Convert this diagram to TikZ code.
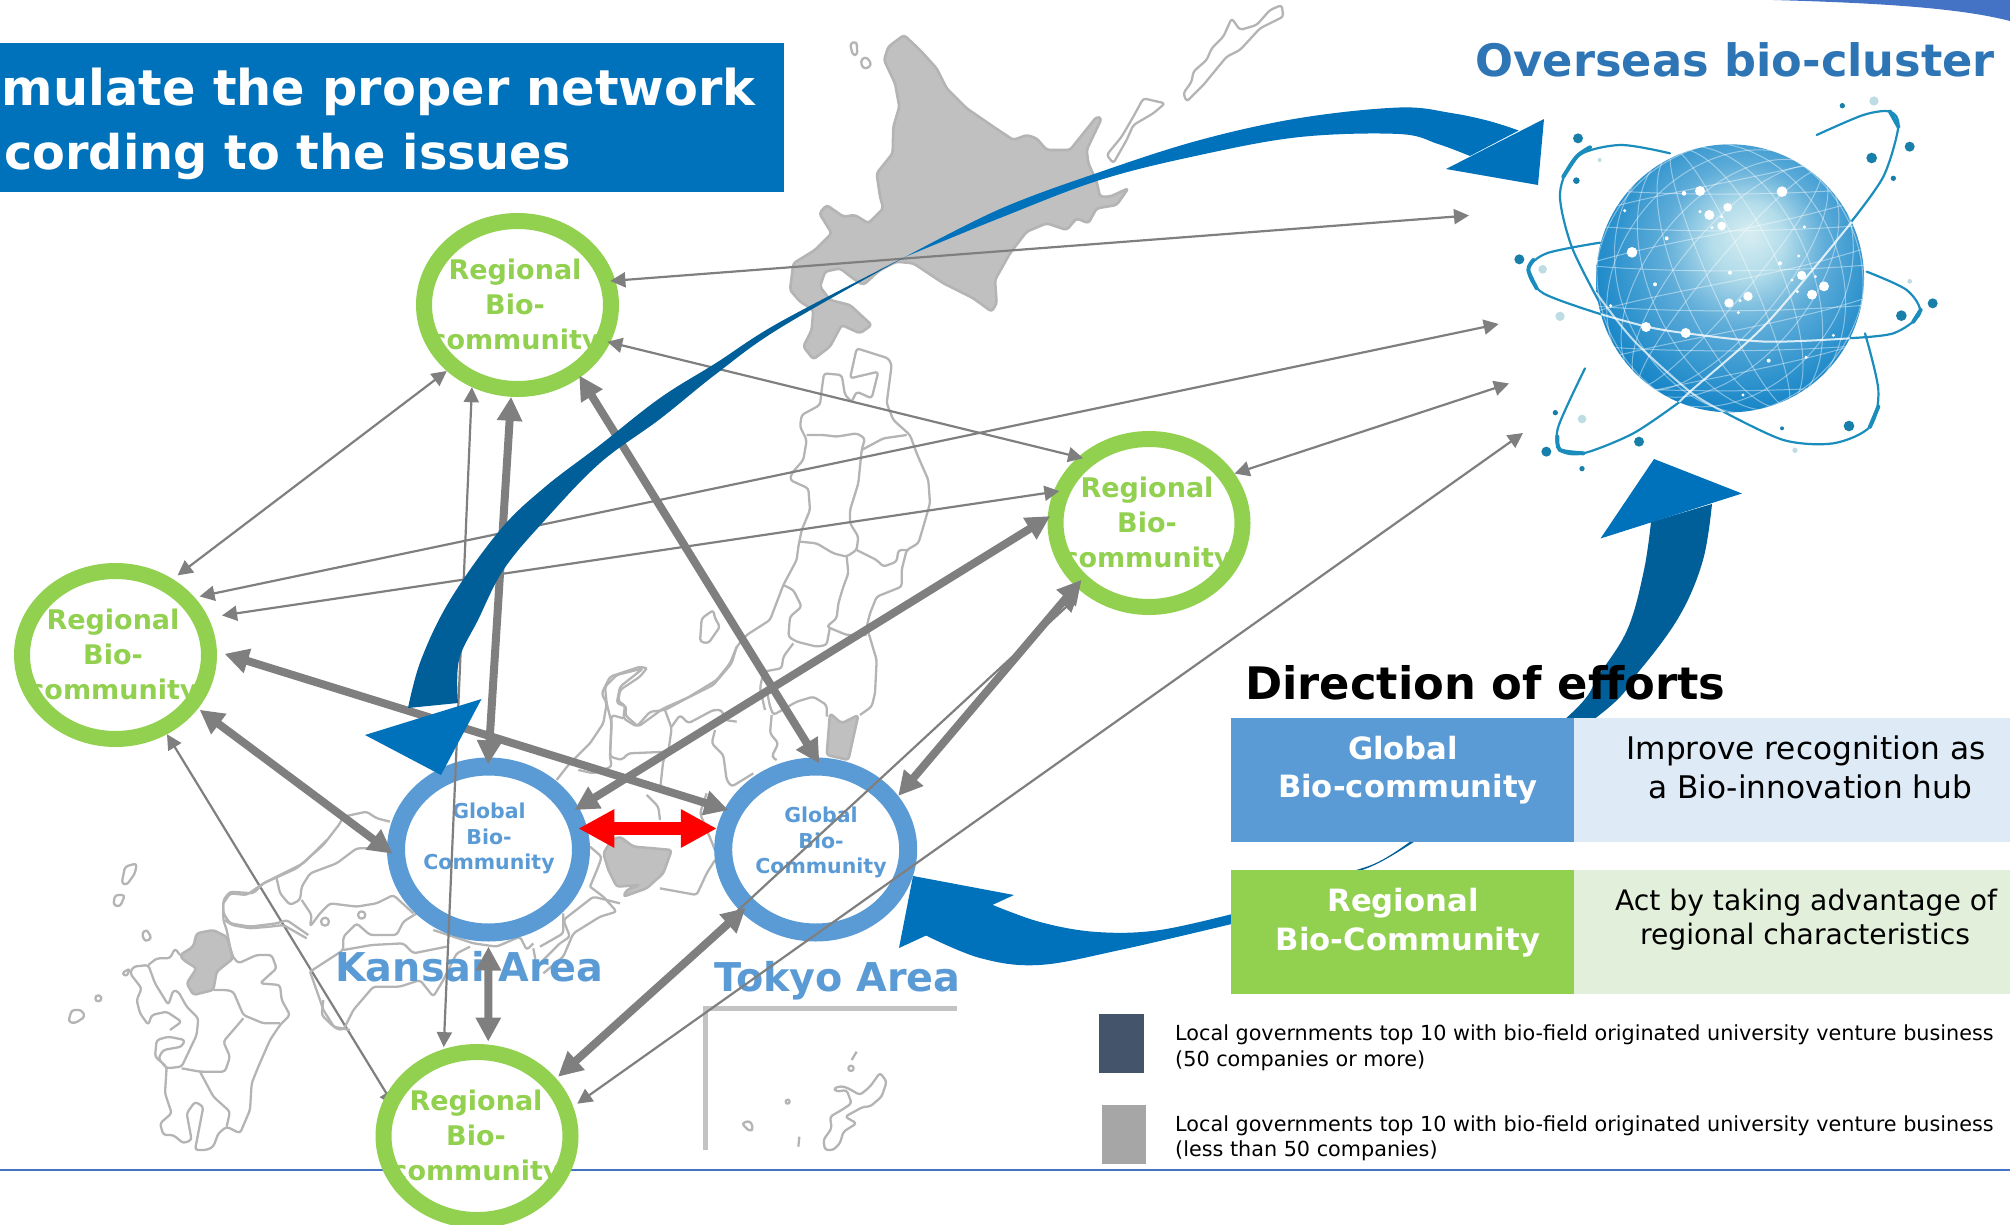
\documentclass[tikz,border=0pt]{standalone}
\usepackage{fontspec}
\setmainfont{DejaVu Sans}
\usetikzlibrary{arrows.meta,shapes.geometric,backgrounds}
\definecolor{ringgreen}{HTML}{92D050}
\definecolor{ringblue}{HTML}{5B9BD5}
\definecolor{conngray}{HTML}{7F7F7F}
\definecolor{bluelight}{HTML}{0071BB}
\definecolor{bluedark}{HTML}{005E98}
\definecolor{mapgray}{HTML}{B4B4B4}
\definecolor{mapfill}{HTML}{C0C0C0}
\definecolor{orbit}{HTML}{1A8DBD}
\definecolor{pale}{HTML}{BEDCE4}
\definecolor{ruleblue}{HTML}{4472C4}
\definecolor{headblue}{HTML}{2E75B6}
\definecolor{lightblue}{HTML}{DEEAF6}
\definecolor{lightgreen}{HTML}{E2EFDA}
\definecolor{legdark}{HTML}{44546A}
\definecolor{leggray}{HTML}{A6A6A6}
\definecolor{gsa}{RGB}{216,238,242}
\definecolor{gsb}{RGB}{178,220,234}
\definecolor{gsc}{RGB}{95,173,217}
\definecolor{gsd}{RGB}{45,146,205}
\definecolor{gse}{RGB}{8,124,195}
\pgfdeclareradialshading{globeshade}{\pgfpoint{3.75bp}{8.5bp}}{%
 color(0bp)=(gsa);
 color(7bp)=(gsb);
 color(15bp)=(gsc);
 color(24bp)=(gsd);
 color(32bp)=(gse);
 color(50bp)=(gse)}
\tikzset{
 ring/.style={ellipse,inner sep=0pt,fill=white},
 greenring/.style={ring,minimum width=187pt,minimum height=168pt,line width=16pt,draw=ringgreen},
 bluering/.style={ring,minimum width=185pt,minimum height=166pt,line width=18pt,draw=ringblue},
 regtext/.style={text=ringgreen,align=center,inner sep=0pt,font=\fontsize{27}{35}\selectfont\bfseries},
 glotext/.style={text=ringblue,align=center,inner sep=0pt,font=\fontsize{20.5}{25.5}\selectfont\bfseries},
 areatext/.style={text=ringblue,inner sep=0pt,anchor=base west,font=\fontsize{39.7}{39.7}\selectfont\bfseries},
 thinarrow/.style={conngray,line width=2.2pt,{Triangle[length=15pt,width=15pt]}-{Triangle[length=15pt,width=15pt]}},
 thickarrow/.style={conngray,line width=8pt,{Triangle[length=24pt,width=24pt]}-{Triangle[length=24pt,width=24pt]}},
 redarrow/.style={red,line width=13pt,{Triangle[length=36pt,width=36pt]}-{Triangle[length=36pt,width=36pt]}},
 mapline/.style={draw=mapgray,line width=2.3pt,line join=round,rounded corners=3pt},
 mapgrayed/.style={fill=mapfill,draw=mapgray,line width=2.6pt,line join=round,rounded corners=3pt},
 legtext/.style={inner sep=0pt,anchor=base west,font=\fontsize{20.75}{26}\selectfont},
 orb/.style={orbit,line width=2.2pt,line cap=round},
 orbthick/.style={orbit,line width=4pt,line cap=round},
 grid/.style={white,opacity=.42,line width=1pt},
}
\begin{document}
\begin{tikzpicture}[x=1pt,y=-1pt]
\useasboundingbox (0,0) rectangle (2010,1225);
\clip (0,0) rectangle (2010,1225);
% corner swoosh
\fill[ruleblue] (1773,0) .. controls (1880,3) and (1960,8) .. (2010,21) -- (2010,0) -- cycle;
% map
\begin{scope}
\clip (0,0) rectangle (2010,1151);
% Hokkaido
\begin{scope}[shift={(780,0)},x=.33333pt,y=-.33333pt]
\path[mapgrayed] (372,105)--(325,140)--(312,180)--(345,250)--(358,320)--(340,380)--(338,460)--(290,520)--(300,590)--(310,625)--(265,670)--(225,645)--(190,650)--(140,615)--(118,640)--(155,700)--(105,750)--(40,790)--(30,870)--(60,905)--(100,930)--(95,990)--(70,1040)--(100,1078)--(150,1040)--(185,975)--(240,1000)--(275,975)--(210,915)--(150,900)--(120,860)--(135,815)--(180,805)--(225,840)--(250,855)--(300,810)--(350,785)--(400,790)--(490,850)--(580,895)--(635,935)--(650,910)--(645,840)--(690,760)--(740,695)--(800,670)--(860,690)--(890,655)--(925,670)--(950,625)--(1010,615)--(1045,565)--(990,590)--(960,590)--(950,545)--(925,490)--(920,450)--(965,355)--(950,350)--(870,450)--(800,450)--(770,415)--(740,405)--(700,420)--(640,380)--(560,325)--(500,265)--(470,205)--(420,150)--cycle;
\path[mapline] (210,130)--(230,125)--(232,165)--(218,165)--cycle;
\path[mapline] (245,175)--(262,172)--(275,195)--(255,208)--(243,195)--cycle;
\path[mapline] (980,465)--(1000,490)--(1040,420)--(1060,375)--(1120,340)--(1155,310)--(1090,295)--(1060,350)--(1025,410)--cycle;
\path[mapline] (1210,280)--(1220,305)--(1270,255)--(1340,170)--(1380,150)--(1440,85)--(1510,50)--(1505,15)--(1470,30)--(1430,75)--(1380,90)--(1355,55)--(1330,110)--(1295,145)--(1280,180)--(1240,215)--(1235,245)--cycle;
\end{scope}
% Tohoku and Kanto
\begin{scope}[shift={(600,340)},x=.33333pt,y=-.33333pt]
\path[mapgrayed] (690,1120)--(725,1150)--(775,1125)--(745,1260)--(680,1245)--cycle;
\path[mapline] (755,185)--(735,165)--(725,105)--(672,100)--(665,150)--(660,195)--(605,225)--(600,260)--(620,300)--(610,360)--(575,400)--(570,420)--(625,445)--(630,510)--(605,570)--(595,620)--(590,660)--(550,735)--(510,840)--(440,885)--(410,920)--(395,970)--(340,1035)--(270,1070)--(190,1105)--(115,1160)--(75,1125)--(80,1100)--(50,1090)--(60,1040)--(130,985)--(50,1005)--(15,1040)--(20,1090)--(35,1150)--(30,1250);
\path[mapline] (755,185)--(770,155)--(815,175)--(835,95)--(750,115)--(770,25)--(865,55)--(875,75)--(860,190)--(880,240)--(930,285)--(950,340)--(985,420)--(990,490)--(970,560)--(955,610)--(920,630)--(905,690)--(905,740)--(830,770)--(810,820)--(800,860)--(830,960)--(825,1060)--(815,1100)--(780,1125);
\path[mapline] (620,285)--(670,285)--(710,290)--(770,280)--(795,295)--(785,330)--(775,430)--(750,510)--(750,550)--(775,590)--(770,630)--(740,650)--(700,640)--(650,610)--(600,605);
\path[mapline] (785,330)--(850,295)--(920,285);
\path[mapline] (770,630)--(830,660)--(850,680)--(890,665)--(895,630)--(925,630);
\path[mapline] (740,650)--(745,700)--(730,740)--(715,790)--(710,835)--(680,860)--(740,885)--(800,885);
\path[mapline] (550,735)--(580,750)--(605,800)--(570,830)--(565,890)--(590,905)--(650,920)--(680,915)--(690,860);
\path[mapline] (580,910)--(550,950)--(545,985)--(490,995)--(480,1045)--(495,1110);
\path[mapline] (500,1050)--(510,1100)--(520,1125)--(590,1085)--(640,1070)--(680,1095)--(680,1130);
\path[mapline] (515,1125)--(510,1180)--(535,1210)--(515,1250)--(530,1260);
\path[mapline] (340,810)--(305,835)--(300,905)--(325,910)--(360,860)--(345,835)--cycle;
\end{scope}
% Chubu
\begin{scope}[shift={(540,640)},x=.33333pt,y=-.33333pt]
\path[mapgrayed] (215,600)--(240,590)--(280,620)--(340,625)--(395,630)--(370,700)--(320,745)--(250,770)--(260,750)--(300,735)--(230,740)--(205,690)--(190,640)--cycle;
\path[mapline] (320,85)--(300,80)--(210,110)--(185,160)--(200,190)--(190,250)--(150,310)--(85,375)--(50,420);
\path[mapline] (320,85)--(300,110)--(240,150)--(235,185)--(255,195)--(250,235)--(290,260)--(330,215)--(375,210)--(440,175)--(530,120)--(570,70)--(590,20);
\path[mapline] (250,235)--(215,225)--(210,350)--(245,360)--(265,340)--(385,335)--(370,360)--(360,450);
\path[mapline] (375,210)--(395,265)--(385,335);
\path[mapline] (395,260)--(420,225)--(445,250)--(520,210)--(545,210)--(555,240)--(590,245);
\path[mapline] (115,390)--(160,400)--(215,380)--(210,350);
\path[mapline] (320,465)--(355,500)--(360,540);
\path[mapline] (500,460)--(480,520)--(525,630);
\path[mapline] (525,270)--(515,310)--(550,345)--(560,420)--(575,440)--(640,400);
\path[mapline] (360,745)--(470,765)--(500,700)--(525,660);
\path[mapline] (150,740)--(175,680)--(185,650)--(150,620);
\path[mapline] (150,740)--(190,770)--(230,815)--(180,830)--(100,880)--(70,950)--(10,1000);
\path[mapline] (70,820)--(70,880)--(0,920);
\end{scope}
% Chugoku and Shikoku
\begin{scope}[shift={(220,780)},x=.33333pt,y=-.33333pt]
\path[mapline] (10,370)--(30,340)--(80,345)--(130,310)--(175,290)--(230,265)--(310,195)--(360,130)--(370,110)--(440,95)--(470,115)--(510,125);
\path[mapline] (10,370)--(10,400)--(30,430)--(90,440)--(170,430)--(200,420)--(265,465);
\path[mapline] (170,295)--(180,340)--(210,375)--(240,360)--(245,320)--(270,280)--(350,250)--(410,205)--(500,205);
\path[mapline] (245,360)--(275,405)--(270,440)--(300,400)--(330,370)--(410,380)--(470,370)--(520,345)--(580,400);
\path[mapline] (270,575)--(370,510)--(370,470)--(410,430)--(450,465)--(530,465)--(550,425)--(590,400);
\path[mapline] (270,575)--(300,660)--(310,690)--(345,745)--(370,750)--(400,690)--(460,620)--(540,620)--(600,600)--(640,650)--(670,600)--(710,520)--(750,500);
\path[mapline] (370,510)--(455,495)--(550,490)--(580,520)--(680,500);
\path[mapline] (640,450)--(700,470)--(760,490)--(830,500)--(900,470)--(920,510)--(940,490);
\path[mapline] (1020,490)--(1050,470)--(1030,420)--(1120,350)--(1200,370);
\path[mapline] (940,505)--(950,560)--(1020,490);
\path[mapline] (315,425) circle (12);
\path[mapline] (425,405) circle (11);
\end{scope}
% Kyushu
\begin{scope}[shift={(50,840)},x=.33333pt,y=-.33333pt]
\path[mapgrayed] (440,280)--(490,270)--(530,290)--(550,355)--(500,395)--(490,450)--(430,465)--(410,430)--(440,385)--(400,360)--(390,345)--(430,320)--cycle;
\path[mapline] (530,270)--(545,345)--(565,370)--(620,345)--(665,345)--(680,385)--(630,430)--(690,435)--(695,480)--(720,525)--(700,545)--(690,555)--(660,600)--(625,680)--(605,730)--(600,810)--(570,880)--(530,860)--(505,880)--(490,920)--(470,930)--(435,930)--(460,800)--(435,785)--(410,820)--(425,900)--(400,910)--(370,885)--(340,885)--(330,850)--(365,820)--(345,760)--(350,680)--(315,650)--(320,600)--(355,590)--(405,600)--(395,620)--(340,630)--(325,655)--(350,685)--(395,680)--(440,585)--(445,535)--(410,500)--(385,455)--(370,450)--(355,495)--(315,430)--(295,375)--(250,380)--(240,400)--(275,445)--(260,480)--(270,520)--(295,555)--(305,525)--(350,515)--(395,545)--(360,570);
\path[mapline] (295,375)--(320,355)--(360,355)--(375,325)--(390,345);
\path[mapline] (490,450)--(530,450)--(550,455)--(580,525)--(640,550)--(690,550);
\path[mapline] (580,535)--(520,605)--(540,650)--(525,695)--(450,695)--(395,685);
\path[mapline] (450,695)--(490,770)--(540,815)--(530,860);
\path[mapline] (530,270)--(520,240)--(520,180)--(540,155)--(610,160)--(640,130)--(690,105)--(760,70)--(830,0);
\path[mapline] (525,240)--(545,255)--(600,265)--(660,260)--(700,255)--(770,295);
\path[mapline] (215,130)--(225,80)--(260,70)--(255,100)--(230,135)--cycle;
\path[mapline] (190,195)--(195,165)--(225,165)--(210,200)--cycle;
\path[mapline] (275,280)--(290,268)--(305,295)--(285,305)--cycle;
\path[mapline] (215,400)--(240,385)--(230,410)--cycle;
\path[mapline] (145,475) circle (9);
\path[mapline] (55,545)--(65,510)--(95,510)--(105,530)--(75,550)--cycle;
\path[mapline] (820,480)--(815,525)--(850,560)--(900,570);
\end{scope}
% Okinawa inset
\begin{scope}[shift={(700,1000)},x=.33333pt,y=-.33333pt]
\draw[mapgray!80,line width=5pt] (15,450)--(15,25)--(770,25);
\path[mapline] (540,218)--(560,245)--(545,290)--(510,320)--(490,320)--(435,350)--(470,370)--(430,395)--(420,430)--(400,450)--(375,450)--(370,420)--(395,385)--(390,350)--(425,330)--(455,310)--(440,270)--(410,275)--(400,265)--(425,258)--(445,265)--(480,285)--(510,260)--cycle;
\path[mapline] (470,155)--(455,180);
\path[mapline] (453,205) circle (8);
\path[mapline] (263,305) circle (6);
\path[mapline] (125,370)--(150,362)--(160,385)--(150,395)--cycle;
\path[mapline] (298,410)--(295,440);
\end{scope}
\end{scope}
% base rule
\draw[ruleblue,line width=2pt] (0,1170) -- (2010,1170);
% globe
\begin{scope}[shift={(1500,90)},x=.33333pt,y=-.33333pt]
\draw[orb] plot[smooth] coordinates {(510,190)(360,165)(230,200)(180,310)(215,470)(300,640)};
\draw[orb] plot[smooth] coordinates {(670,965)(850,1050)(1000,1060)(1110,1010)(1135,900)(1095,730)};
\draw[orb] plot[smooth] coordinates {(300,458)(140,490)(85,540)(130,610)(310,675)};
\draw[orb] plot[smooth] coordinates {(1040,745)(1180,730)(1260,670)(1220,600)(1100,545)};
\draw[orb] plot[smooth] coordinates {(950,135)(1090,75)(1170,65)(1195,110)(1150,260)(1050,400)};
\draw[orb] plot[smooth] coordinates {(540,935)(400,1030)(250,1090)(180,1080)(175,1010)(255,835)};
\draw[orbthick] plot[smooth] coordinates {(270,172)(230,200)(190,260)};
\draw[orbthick] plot[smooth] coordinates {(1110,1010)(1135,950)};
\draw[orbthick] plot[smooth] coordinates {(100,510)(85,540)(110,595)};
\draw[orbthick] plot[smooth] coordinates {(1170,65)(1195,110)};
\draw[orbthick] plot[smooth] coordinates {(250,1090)(180,1080)(172,1040)};
\draw[orbthick] plot[smooth] coordinates {(1240,695)(1262,660)};
\shade[shading=globeshade] (690,565) circle (402);
\begin{scope}
\clip (690,565) circle (402);
\foreach \r in {60,150,240,330,395}{\draw[grid] (690,565) ellipse[x radius=\r,y radius=420,rotate=24];}
\foreach \r in {60,150,240,330,395}{\draw[grid] (690,565) ellipse[x radius=\r,y radius=420,rotate=-40];}
\foreach \c in {-320,-210,-90,30,150,270}{\draw[grid] (-100,565+\c) .. controls (300,565+\c+90) and (1000,565+\c+90) .. (1500,565+\c);}
\foreach \c in {-280,-130,20,170,300}{\draw[grid] (100,565+\c+150) .. controls (400,565+\c) and (900,565+\c) .. (1300,565+\c-190);}
\draw[white,opacity=.8,line width=2pt] plot[smooth] coordinates {(300,672)(440,710)(560,730)(800,755)(1050,745)};
\draw[white,opacity=.8,line width=2pt] plot[smooth] coordinates {(1060,390)(800,700)(570,905)(530,945)};
\draw[white,opacity=.7,line width=2pt] plot[smooth] coordinates {(290,610)(400,750)(570,905)(680,970)};
\end{scope}
\foreach \x/\y/\r in {234/145/15,229/272/10,58/508/15,1027/47/8,1229/170/15,1115/204/16,1180/265/8,1298/640/15,1204/677/16,1047/1008/16,846/1015/6,417/1055/15,139/1085/15,166/968/8,246/1136/8}{\fill[orbit!90!black] (\x,\y) circle (\r);}
\foreach \x/\y/\r in {1122/33/14,299/210/6,128/538/13,180/679/14,1229/574/7,246/987/13,885/1081/8}{\fill[pale] (\x,\y) circle (\r);}
\foreach \x/\y/\r in {600/303/15,552/310/7,628/375/15,683/352/13,665/408/13,600/365/5,665/380/5,636/413/5,846/305/16,913/411/5,896/498/5,840/520/6,690/548/6,500/445/6,396/487/16,374/362/5,465/583/6,332/647/5,905/556/14,972/589/15,936/614/15,876/570/5,946/560/5,892/605/5,744/619/14,687/639/14,720/632/5,715/668/5,438/711/15,557/729/15,806/812/6,918/802/5,1000/736/5,729/915/5}{\fill[white] (\x,\y) circle (\r);}
\end{scope}
% rings
\node[greenring] (r1) at (517.5,305) {};
\node[greenring] (r2) at (115.5,655) {};
\node[greenring] (r3) at (1149,523) {};
\node[greenring] (r4) at (477,1136) {};
\node[bluering] (k1) at (488.5,849.5) {};
\node[bluering] (t1) at (815.7,849.5) {};
\begin{scope}[on background layer]
\draw[thinarrow,shorten >=-14pt] (r2.-57.7) -- (r4.155);
\end{scope}
\node[regtext] (r1t) at (515,307) {Regional\\Bio-\\community};
\node[regtext] (r2t) at (113,657) {Regional\\Bio-\\community};
\node[regtext] (r3t) at (1147,525) {Regional\\Bio-\\community};
\node[regtext] (r4t) at (476,1138) {Regional\\Bio-\\community};
\node[glotext] (k1t) at (489,838.5) {Global\\Bio-\\Community};
\node[glotext] (t1t) at (821,842.5) {Global\\Bio-\\Community};
\node[areatext] (kansai) at (335,981) {Kansai Area};
\node[areatext] (tokyo) at (714,991) {Tokyo Area};
% free connector ends
\coordinate (ov1) at (1469,215.5);
\coordinate (ov2) at (1498.7,324);
\coordinate (ov3) at (1509,383.5);
\coordinate (ov4) at (1523,433);
% thin connectors
\draw[thinarrow,shorten <=-5pt] (r1.14.2) -- (ov1);
\draw[thinarrow,shorten <=-3pt,shorten >=-5pt] (r1.-22.8) -- (r3.137.7);
\draw[thinarrow,shorten <=5pt] (r2.36.9) -- (ov2);
\draw[thinarrow,shorten <=14pt,shorten >=-6pt] (r2.22.7) -- (r3.162);
\draw[thinarrow] (r3.30.4) -- (ov3);
\draw[thinarrow,shorten <=5pt] (r4.17.7) -- (ov4);
\draw[thinarrow,shorten >=6pt] (r1.-137.4) -- (r2.53.5);
\draw[thinarrow,shorten >=2pt] (r1.-119) -- (r4.111.7);
\draw[thinarrow,shorten <=3pt,shorten >=7pt] (r4.36.9) -- (r3.226.2);
% thick connectors
\draw[thickarrow,shorten >=-7pt] (r1.-94.7) -- (k1.90);
\draw[thickarrow,shorten <=-2pt,shorten >=-7pt] (r1.-49) -- (t1.90);
\draw[thickarrow,shorten <=-3pt,shorten >=-5pt] (r3.177) -- (k1.25.3);
\draw[thickarrow,shorten <=-9pt] (r3.221.7) -- (t1.33.5);
\draw[thickarrow,shorten <=8pt,shorten >=-4pt] (r2.2.6) -- (t1.156.3);
\draw[thickarrow,shorten <=2pt,shorten >=-7pt] (r2.-33.7) -- (k1.180);
\draw[thickarrow,shorten <=5pt,shorten >=3pt] (k1.-90) -- (r4.83);
\draw[thickarrow,shorten <=-6pt,shorten >=3pt] (t1.220.5) -- (r4.36.9);
\draw[redarrow,shorten <=-9pt] (k1.12.4) -- (t1.168.8);
% curved blue arrows
\fill[bluedark] plot[smooth,tension=.6] coordinates {(408,708)(421,660)(450,600)(500,530)(545,487)(600,445)(660,398)(716,363)(780,322)(905,257)} -- plot[smooth,tension=.6] coordinates {(905,257)(780,328)(716,374)(660,419)(600,463)(545,520)(504,569)(478,620)(459,660)(458,703)} -- cycle;
\fill[bluelight] (481.5,699) -- (365,735) -- (441,775) -- cycle;
\fill[bluelight] plot[smooth,tension=.6] coordinates {(905,257)(1000,209)(1100,172)(1200,140)(1300,118)(1399.5,107.5)(1451,113)(1489,121)(1518.7,130.5)} -- plot[smooth,tension=.6] coordinates {(1470,156)(1438,144)(1399,134)(1300,137)(1200,155)(1100,180)(1000,218)(905,257)} -- cycle;
\fill[bluelight] (1544,119) -- (1538,185) -- (1446,169) -- cycle;
\fill[bluedark] plot[smooth,tension=.6] coordinates {(1651,522)(1644,570)(1628,628)(1600,673)(1564,720)(1404,846)(1345,875)(1300,905)} -- plot[smooth,tension=.6] coordinates {(1300,905)(1346,877)(1406,847)(1593,720)(1640,670)(1680,615)(1703,560)(1712,504)} -- cycle;
\fill[bluelight] (1654,459) -- (1742,493.5) -- (1600.5,538.5) -- cycle;
\fill[bluelight] plot[smooth,tension=.6] coordinates {(925,935)(980,958)(1039,965)(1120,950)(1240,922)} -- plot[smooth,tension=.6] coordinates {(1240,912)(1160,930)(1097,932)(1040,922)(988,903)} -- cycle;
\fill[bluelight] (913,876) -- (1014,895) -- (899,948) -- cycle;
% title
\fill[bluelight] (0,43) rectangle (784,192);
\node[inner sep=0pt,anchor=base east,text=white,font=\fontsize{49.4}{49.4}\selectfont\bfseries] (title1) at (756,106) {mulate the proper network};
\node[inner sep=0pt,anchor=base east,text=white,font=\fontsize{47.8}{47.8}\selectfont\bfseries] (title2) at (571,170) {cording to the issues};
\node[inner sep=0pt,anchor=base west,text=headblue,font=\fontsize{44.7}{44.7}\selectfont\bfseries] (overseas) at (1475.5,77) {Overseas bio-cluster};
% direction table
\node[inner sep=0pt,anchor=base west,text=black,font=\fontsize{44.8}{44.8}\selectfont\bfseries] (dir) at (1245,699) {Direction of efforts};
\fill[ringblue] (1231,717.6) rectangle (1573.5,842);
\fill[lightblue] (1573.5,717.6) rectangle (2010,842);
\fill[ringgreen] (1231,870) rectangle (1573.5,993.5);
\fill[lightgreen] (1573.5,870) rectangle (2010,993.5);
\node[inner sep=0pt,anchor=base,text=white,font=\fontsize{30.7}{30.7}\selectfont\bfseries] (g1) at (1403,759) {Global};
\node[inner sep=0pt,anchor=base,text=white,font=\fontsize{30.7}{30.7}\selectfont\bfseries] (g2) at (1408,797.5) {Bio-community};
\node[inner sep=0pt,anchor=base,text=white,font=\fontsize{30.7}{30.7}\selectfont\bfseries] (g3) at (1403,911) {Regional};
\node[inner sep=0pt,anchor=base,text=white,font=\fontsize{30.7}{30.7}\selectfont\bfseries] (g4) at (1408,950) {Bio-Community};
\node[inner sep=0pt,anchor=base,font=\fontsize{31.2}{31.2}\selectfont] (d1) at (1806,759) {Improve recognition as};
\node[inner sep=0pt,anchor=base,font=\fontsize{31.2}{31.2}\selectfont] (d2) at (1810,798) {a Bio-innovation hub};
\node[inner sep=0pt,anchor=base,font=\fontsize{28.2}{28.2}\selectfont] (d3) at (1806,910) {Act by taking advantage of};
\node[inner sep=0pt,anchor=base,font=\fontsize{28.2}{28.2}\selectfont] (d4) at (1805,944) {regional characteristics};
% legend
\fill[legdark] (1099,1014) rectangle (1144,1072.5);
\fill[leggray] (1102,1105) rectangle (1146,1163.6);
\node[legtext] (l1) at (1175,1040.5) {Local governments top 10 with bio-field originated university venture business};
\node[legtext] (l2) at (1175,1066) {(50 companies or more)};
\node[legtext] (l3) at (1175,1131) {Local governments top 10 with bio-field originated university venture business};
\node[legtext] (l4) at (1175,1156.5) {(less than 50 companies)};
\end{tikzpicture}
\end{document}
